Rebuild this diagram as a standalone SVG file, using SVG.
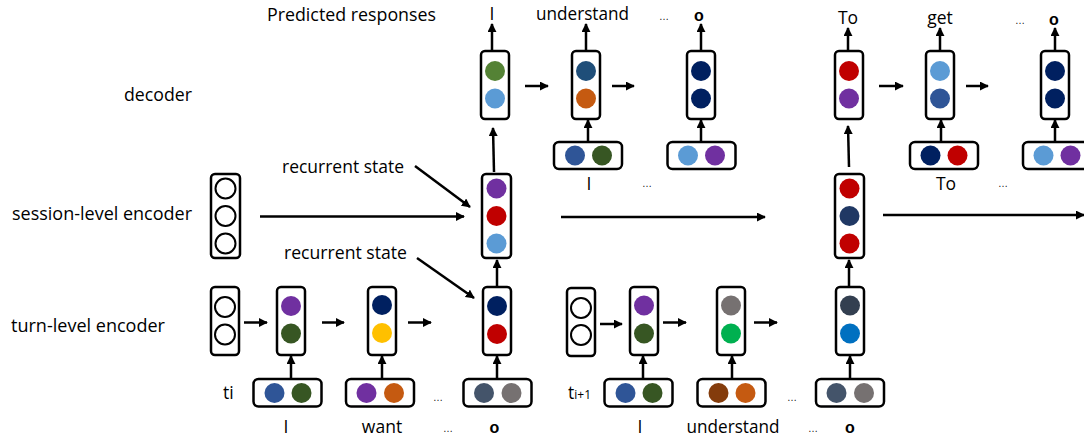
<svg xmlns="http://www.w3.org/2000/svg" width="1084" height="437" viewBox="0 0 1084 437">
<style>
.box{fill:#fff;stroke:#000;stroke-width:2.5}
.e{fill:#fff;stroke:#000;stroke-width:2}
.t{font-family:"Open Sans","Liberation Sans",sans-serif;font-size:17.5px;fill:#000}
.m{text-anchor:middle}
.dots{font-family:"Liberation Sans",sans-serif;font-size:10px;fill:#111;text-anchor:middle}
.eos{font-family:"Liberation Sans",sans-serif;font-size:16px;font-weight:bold;fill:#000;text-anchor:middle}
.c line{stroke:#000;stroke-width:2.5;marker-end:url(#ah)}
</style>
<defs>
<marker id="ah" viewBox="0 0 10 10" refX="9" refY="5" markerWidth="9" markerHeight="9" markerUnits="userSpaceOnUse" orient="auto">
<path d="M0,0 L10,5 L0,10 z" fill="#000"/>
</marker>
</defs>

<g id="labels">
<text class="t" x="267" y="21" textLength="169" lengthAdjust="spacingAndGlyphs">Predicted responses</text>
<text class="t" x="124" y="101" textLength="68" lengthAdjust="spacingAndGlyphs">decoder</text>
<text class="t" x="12" y="220" textLength="180" lengthAdjust="spacingAndGlyphs">session-level encoder</text>
<text class="t" x="11" y="332" textLength="154" lengthAdjust="spacingAndGlyphs">turn-level encoder</text>
<text class="t" x="282" y="173" textLength="122" lengthAdjust="spacingAndGlyphs">recurrent state</text>
<text class="t" x="284" y="259" textLength="123" lengthAdjust="spacingAndGlyphs">recurrent state</text>
</g>

<g id="outputs">
<text class="t m" x="492" y="20">I</text>
<text class="t" x="536" y="20" textLength="93" lengthAdjust="spacingAndGlyphs">understand</text>
<text class="dots" x="664" y="20">…</text>
<text class="eos" x="699" y="21">o</text>
<text class="t m" x="848" y="24">To</text>
<text class="t m" x="940" y="24">get</text>
<text class="dots" x="1020" y="24">…</text>
<text class="eos" x="1054" y="25">o</text>
</g>

<g id="decoder-left">
<rect class="box" x="481" y="51" width="28" height="68" rx="4"/>
<circle cx="495" cy="71" r="10" fill="#548235"/>
<circle cx="495" cy="98.5" r="10" fill="#5B9BD5"/>
<rect class="box" x="572" y="51" width="28" height="68" rx="4"/>
<circle cx="586" cy="71" r="10" fill="#1F4E79"/>
<circle cx="586" cy="98.5" r="10" fill="#C55A11"/>
<rect class="box" x="687" y="51" width="28" height="68" rx="4"/>
<circle cx="701" cy="71" r="10" fill="#002060"/>
<circle cx="701" cy="98.5" r="10" fill="#002060"/>
</g>
<g id="decoder-left-inputs">
<rect class="box" x="554" y="142" width="68" height="27" rx="5"/>
<circle cx="575" cy="155.5" r="10" fill="#2F5597"/>
<circle cx="602" cy="155.5" r="10" fill="#375623"/>
<rect class="box" x="667.5" y="142" width="68" height="27" rx="5"/>
<circle cx="688" cy="155.5" r="10" fill="#5B9BD5"/>
<circle cx="715" cy="155.5" r="10" fill="#7030A0"/>
<text class="t m" x="589" y="190">I</text>
<text class="dots" x="647" y="187">…</text>
</g>

<g id="decoder-right">
<rect class="box" x="835" y="51" width="28" height="68" rx="4"/>
<circle cx="849" cy="71" r="10" fill="#C00000"/>
<circle cx="849" cy="98.5" r="10" fill="#7030A0"/>
<rect class="box" x="926" y="51" width="28" height="68" rx="4"/>
<circle cx="940" cy="71" r="10" fill="#5B9BD5"/>
<circle cx="940" cy="98.5" r="10" fill="#2F5597"/>
<rect class="box" x="1041" y="51" width="28" height="68" rx="4"/>
<circle cx="1055" cy="71" r="10" fill="#002060"/>
<circle cx="1055" cy="98.5" r="10" fill="#002060"/>
</g>
<g id="decoder-right-inputs">
<rect class="box" x="910" y="142" width="68" height="27" rx="5"/>
<circle cx="930.5" cy="155.5" r="10" fill="#002060"/>
<circle cx="957.5" cy="155.5" r="10" fill="#C00000"/>
<rect class="box" x="1023" y="142" width="68" height="27" rx="5"/>
<circle cx="1043.5" cy="155.5" r="10" fill="#5B9BD5"/>
<circle cx="1070.5" cy="155.5" r="10" fill="#7030A0"/>
<text class="t m" x="946" y="190">To</text>
<text class="dots" x="1003" y="187">…</text>
</g>

<g id="session">
<rect class="box" x="211" y="174" width="29" height="84" rx="4"/>
<circle class="e" cx="225.5" cy="188.5" r="10"/>
<circle class="e" cx="225.5" cy="216" r="10"/>
<circle class="e" cx="225.5" cy="243.5" r="10"/>
<rect class="box" x="482" y="174" width="29" height="84" rx="4"/>
<circle cx="496.5" cy="188.5" r="10" fill="#7030A0"/>
<circle cx="496.5" cy="216" r="10" fill="#C00000"/>
<circle cx="496.5" cy="243.5" r="10" fill="#5B9BD5"/>
<rect class="box" x="835" y="174" width="29" height="84" rx="4"/>
<circle cx="849.5" cy="188.5" r="10" fill="#C00000"/>
<circle cx="849.5" cy="216" r="10" fill="#203864"/>
<circle cx="849.5" cy="243.5" r="10" fill="#C00000"/>
</g>

<g id="turn-i">
<rect class="box" x="211" y="287" width="28" height="68" rx="4"/>
<circle class="e" cx="225" cy="307" r="10"/>
<circle class="e" cx="225" cy="334.5" r="10"/>
<rect class="box" x="277" y="287" width="28" height="68" rx="4"/>
<circle cx="291" cy="306" r="10" fill="#7030A0"/>
<circle cx="291" cy="333.5" r="10" fill="#375623"/>
<rect class="box" x="368" y="287" width="28" height="68" rx="4"/>
<circle cx="382" cy="305" r="10" fill="#002060"/>
<circle cx="382" cy="333" r="10" fill="#FFC000"/>
<rect class="box" x="483" y="287" width="28" height="68" rx="4"/>
<circle cx="497" cy="306" r="10" fill="#002060"/>
<circle cx="497" cy="334" r="10" fill="#C00000"/>
</g>
<g id="turn-i-inputs">
<rect class="box" x="253.5" y="379" width="68" height="27.5" rx="5"/>
<circle cx="274.5" cy="393" r="10" fill="#2F5597"/>
<circle cx="301.5" cy="393" r="10" fill="#375623"/>
<rect class="box" x="346" y="379" width="68" height="27.5" rx="5"/>
<circle cx="366.5" cy="393" r="10" fill="#7030A0"/>
<circle cx="394" cy="393" r="10" fill="#C55A11"/>
<rect class="box" x="463.5" y="379" width="68" height="27.5" rx="5"/>
<circle cx="484" cy="393" r="10" fill="#44546A"/>
<circle cx="511.5" cy="393" r="10" fill="#767171"/>
<text class="t" x="223" y="399">ti</text>
<text class="t m" x="286" y="433">I</text>
<text class="t m" x="382" y="433">want</text>
<text class="dots" x="438" y="401">…</text>
<text class="dots" x="448" y="432">…</text>
<text class="eos" x="494.5" y="433">o</text>
</g>

<g id="turn-i1">
<rect class="box" x="567" y="288" width="28" height="68" rx="4"/>
<circle class="e" cx="581" cy="308" r="10"/>
<circle class="e" cx="581" cy="335" r="10"/>
<rect class="box" x="630" y="287" width="28" height="68" rx="4"/>
<circle cx="644" cy="305.5" r="10" fill="#7030A0"/>
<circle cx="644" cy="333.5" r="10" fill="#375623"/>
<rect class="box" x="717" y="287" width="28" height="68" rx="4"/>
<circle cx="731" cy="305.5" r="10" fill="#767171"/>
<circle cx="731" cy="333.5" r="10" fill="#00B050"/>
<rect class="box" x="836" y="287" width="28" height="68" rx="4"/>
<circle cx="850" cy="305.5" r="10" fill="#333F50"/>
<circle cx="850" cy="333.5" r="10" fill="#0070C0"/>
</g>
<g id="turn-i1-inputs">
<rect class="box" x="604.5" y="379" width="68" height="27.5" rx="5"/>
<circle cx="625.5" cy="393" r="10" fill="#2F5597"/>
<circle cx="652.5" cy="393" r="10" fill="#375623"/>
<rect class="box" x="697.5" y="379" width="68" height="27.5" rx="5"/>
<circle cx="718.5" cy="393" r="10" fill="#843C0C"/>
<circle cx="745.5" cy="393" r="10" fill="#C55A11"/>
<rect class="box" x="816" y="379" width="68" height="27.5" rx="5"/>
<circle cx="836.5" cy="393" r="10" fill="#44546A"/>
<circle cx="864" cy="393" r="10" fill="#767171"/>
<text class="t" x="568" y="399">t<tspan font-size="12px">i+1</tspan></text>
<text class="t m" x="640" y="433">I</text>
<text class="t m" x="733" y="433" textLength="93" lengthAdjust="spacingAndGlyphs">understand</text>
<text class="dots" x="792" y="401">…</text>
<text class="dots" x="813" y="432">…</text>
<text class="eos" x="850" y="433">o</text>
</g>

<g id="connectors" class="c">
<line x1="244" y1="322.5" x2="267" y2="322.5"/>
<line x1="322" y1="322.5" x2="344" y2="322.5"/>
<line x1="408" y1="322.5" x2="431" y2="322.5"/>
<line x1="291" y1="379" x2="291" y2="356"/>
<line x1="382" y1="379" x2="382" y2="356"/>
<line x1="497" y1="379" x2="497" y2="356"/>
<line x1="497" y1="286" x2="497" y2="260"/>
<line x1="600" y1="324" x2="622" y2="324"/>
<line x1="663" y1="322.5" x2="686" y2="322.5"/>
<line x1="754" y1="322.5" x2="777" y2="322.5"/>
<line x1="643" y1="379" x2="643" y2="356"/>
<line x1="732" y1="379" x2="732" y2="356"/>
<line x1="850" y1="379" x2="850" y2="356"/>
<line x1="849" y1="286" x2="849" y2="260"/>
<line x1="260" y1="216.5" x2="464" y2="216.5"/>
<line x1="561" y1="217" x2="765" y2="217"/>
<line x1="883" y1="215" x2="1084" y2="215"/>
<line x1="415" y1="166" x2="470" y2="207"/>
<line x1="417" y1="258" x2="474" y2="298"/>
<line x1="494" y1="172" x2="493" y2="128"/>
<line x1="849" y1="167" x2="848" y2="126"/>
<line x1="492" y1="50" x2="492" y2="24"/>
<line x1="586" y1="50" x2="586" y2="24"/>
<line x1="701" y1="50" x2="701" y2="24"/>
<line x1="848" y1="50" x2="848" y2="28"/>
<line x1="940" y1="50" x2="940" y2="28"/>
<line x1="1055" y1="50" x2="1055" y2="28"/>
<line x1="525" y1="86" x2="548" y2="86"/>
<line x1="612" y1="86" x2="634" y2="86"/>
<line x1="879" y1="86" x2="903" y2="86"/>
<line x1="966" y1="86" x2="988" y2="86"/>
<line x1="588" y1="142" x2="588" y2="120"/>
<line x1="701" y1="142" x2="701" y2="120"/>
<line x1="941" y1="142" x2="941" y2="120"/>
<line x1="1055" y1="142" x2="1055" y2="120"/>
</g>
</svg>
